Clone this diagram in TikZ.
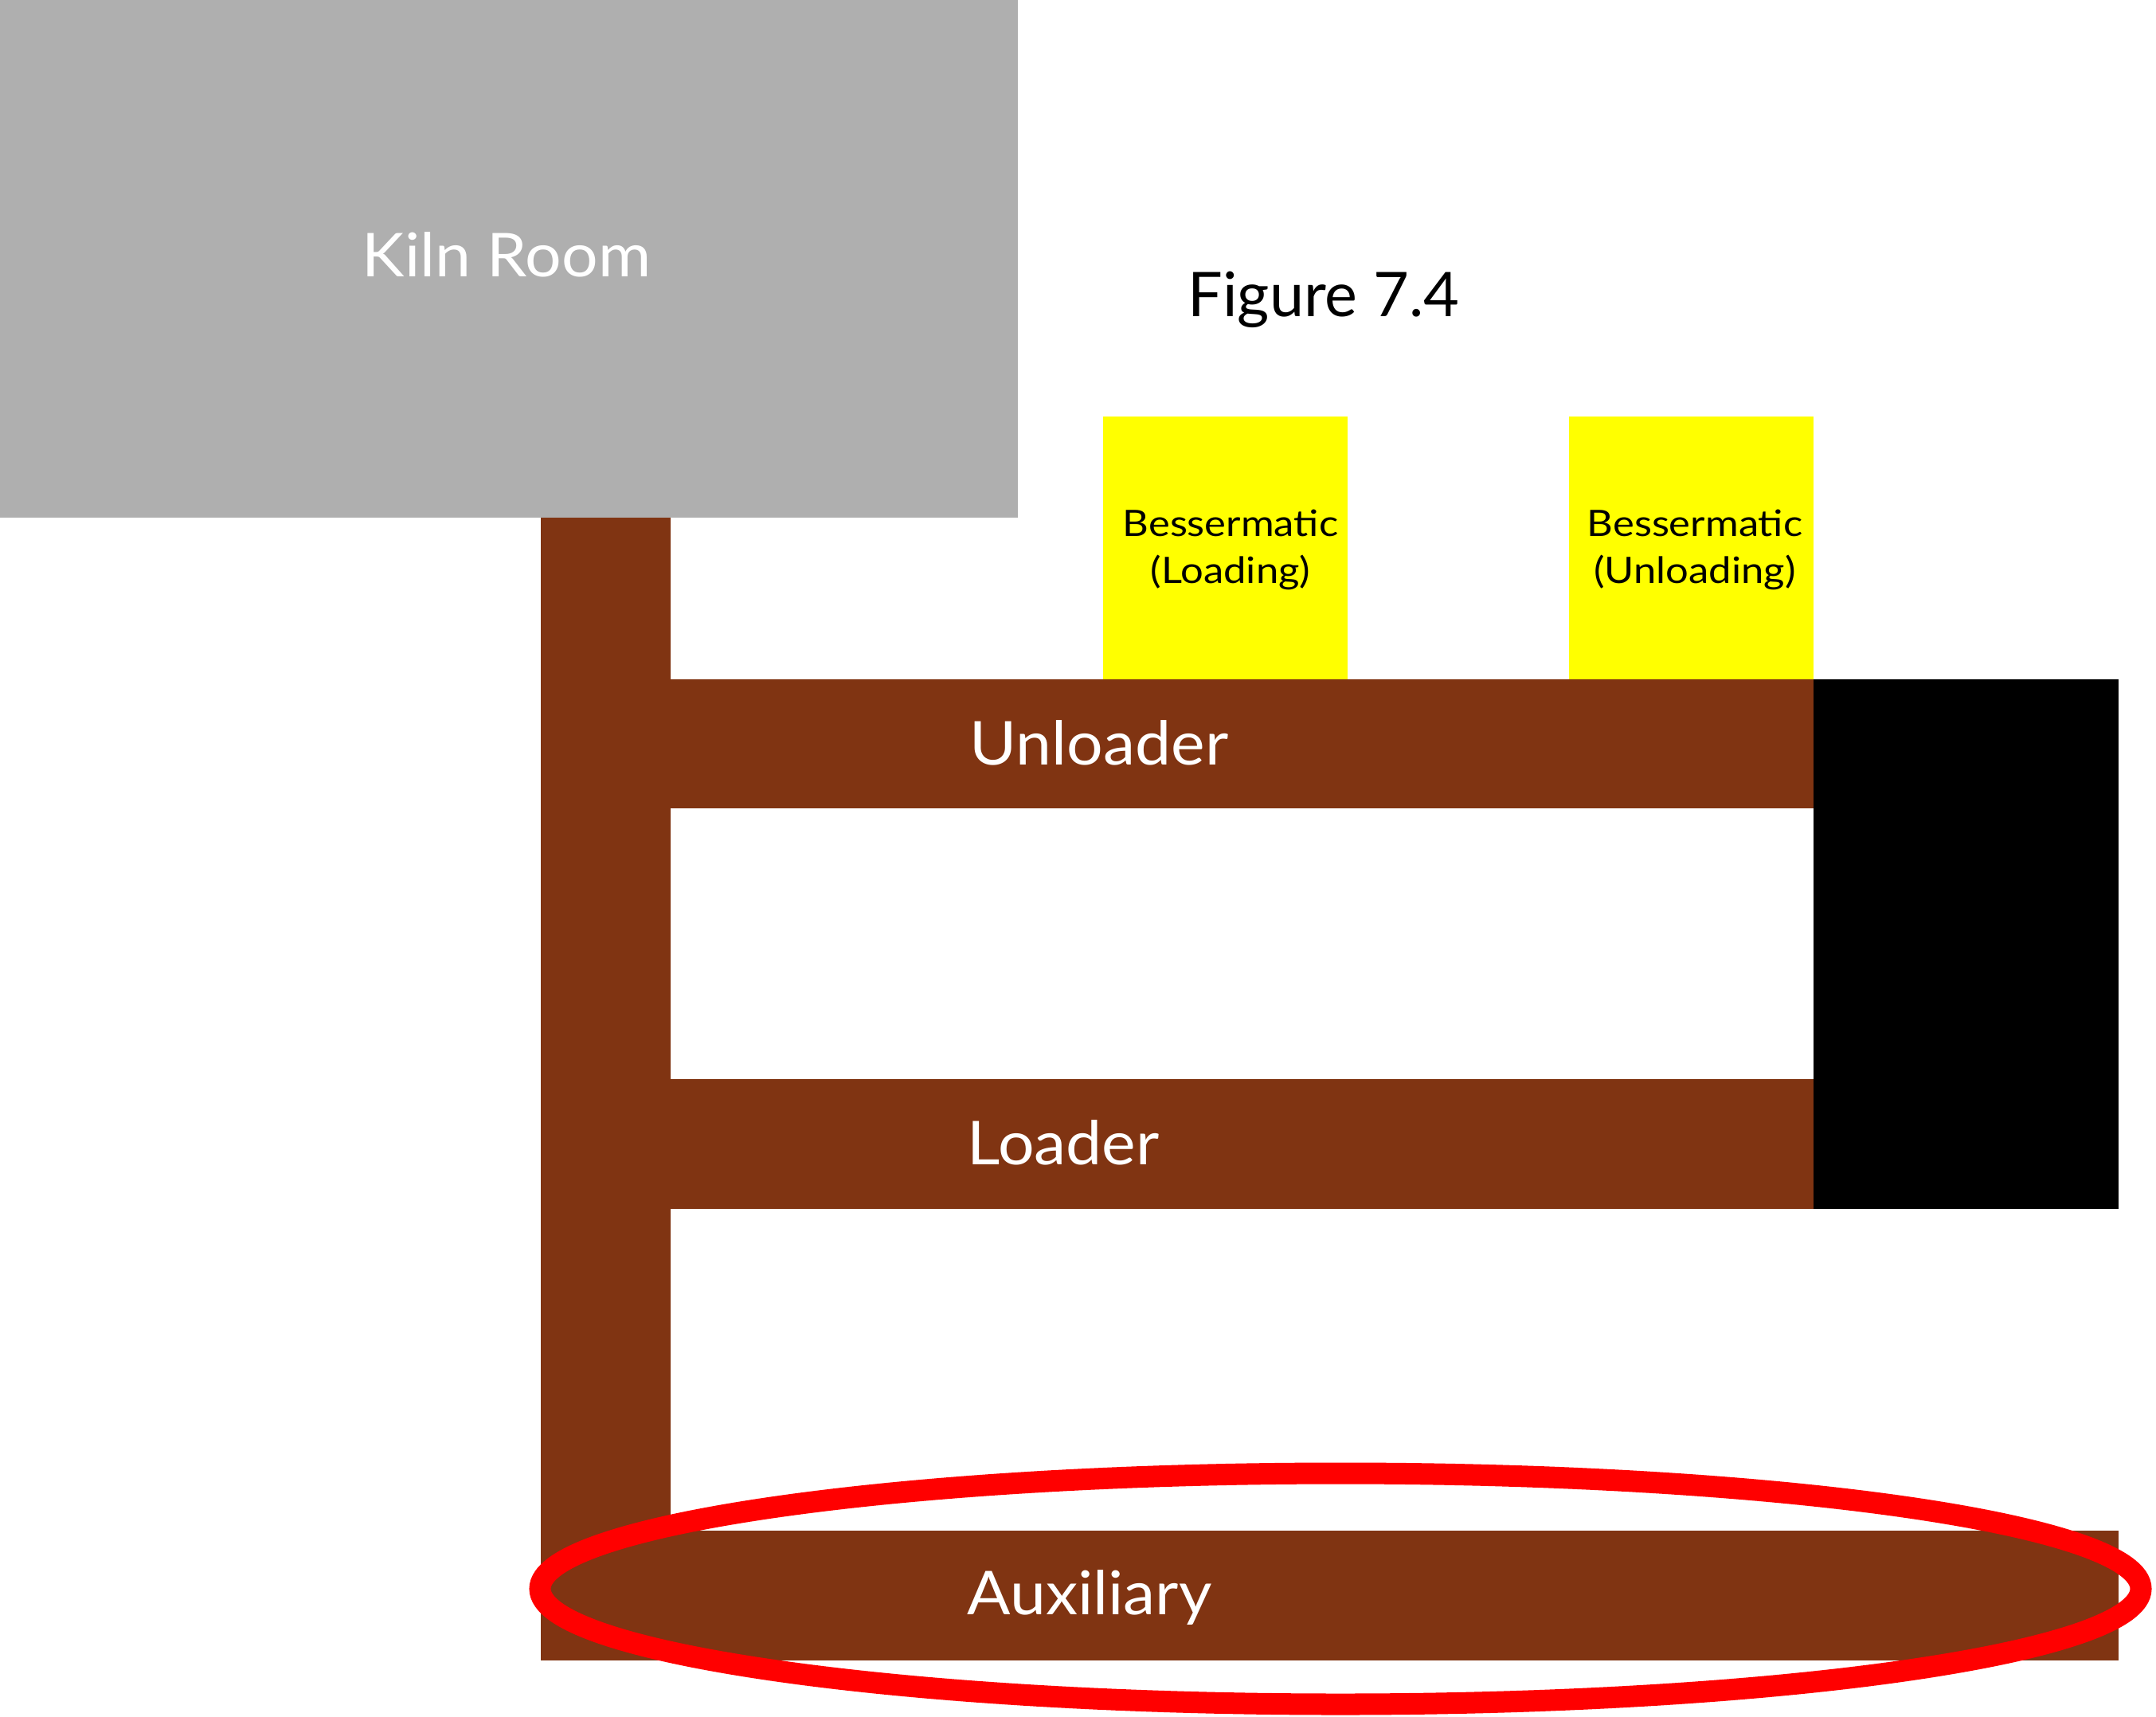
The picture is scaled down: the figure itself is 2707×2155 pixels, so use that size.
\documentclass[tikz,border=0pt]{standalone}
\usepackage{fontspec}
\setmainfont{Lato}
\newfontfamily\bigfont{Lato}[FakeStretch=1.06]
\newfontfamily\smallfont{Lato}[FakeStretch=1.11]
\definecolor{brownbar}{RGB}{128,52,18}
\definecolor{kilngray}{RGB}{175,175,175}
\definecolor{bessyellow}{RGB}{255,255,0}
\definecolor{ringred}{RGB}{255,0,0}
\begin{document}
\begin{tikzpicture}[x=0.01cm,y=-0.01cm,
  biglabel/.style={inner sep=0pt,anchor=base west,text=white,font=\bigfont\fontsize{21.6}{26}\selectfont},
  smalllabel/.style={inner sep=0pt,anchor=base,text=black,font=\smallfont\fontsize{13}{17}\selectfont}]
\useasboundingbox (0,0) rectangle (2707,2155);
% shapes
\path[fill=kilngray] (0,0) rectangle (1278,650);
\path[fill=brownbar] (679,650) rectangle (842,2085);
\path[fill=brownbar] (842,853) rectangle (2277,1015);
\path[fill=brownbar] (842,1355) rectangle (2277,1518);
\path[fill=brownbar] (679,1922) rectangle (2660,2085);
\path[fill=black] (2277,853) rectangle (2660,1518);
\path[fill=bessyellow] (1385,523) rectangle (1692,853);
\path[fill=bessyellow] (1970,523) rectangle (2277,853);
\draw[ringred,line width=0.27cm] (1683,1995) ellipse [x radius=1005, y radius=145];
% labels
\node[biglabel] (kiln) at (454,348) {Kiln Room};
\node[inner sep=0pt,anchor=base west,font=\fontsize{22}{26}\selectfont] (fig) at (1491,397) {Figure 7.4};
\node[biglabel] (unl) at (1217,960) {Unloader};
\node[biglabel] (lod) at (1214,1462) {Loader};
\node[biglabel] (aux) at (1214,2027) {Auxiliary};
\node[smalllabel] (b1a) at (1545,673) {Bessermatic};
\node[smalllabel] (b1b) at (1545,732) {(Loading)};
\node[smalllabel] (b2a) at (2128,673) {Bessermatic};
\node[smalllabel] (b2b) at (2128,732) {(Unloading)};
\end{tikzpicture}
\end{document}
